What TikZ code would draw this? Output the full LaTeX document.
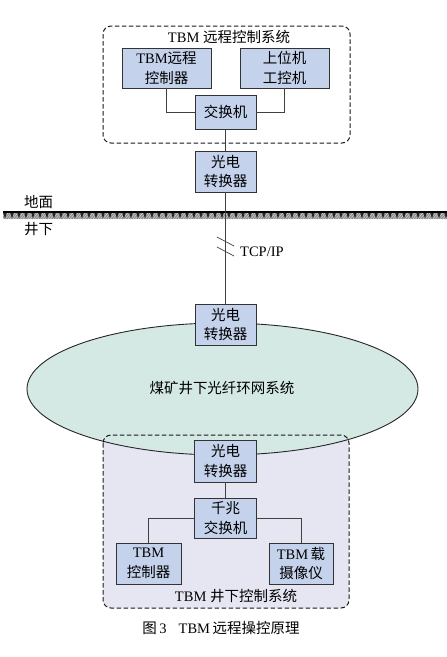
\documentclass[tikz,border=0pt]{standalone}
\usepackage{fontspec}
\setmainfont{Liberation Serif}
\newfontfamily\cjk{Noto Sans CJK SC}
\newcommand{\zh}[1]{{\cjk #1}}
\definecolor{boxblue}{HTML}{C5D2EC}
\definecolor{ringfill}{HTML}{D4E8E4}
\definecolor{lowfill}{HTML}{E6E6F3}
\begin{document}
\begin{tikzpicture}[x=1pt,y=-1pt,
  unit/.style={draw=black!80,fill=boxblue,line width=0.8pt,inner sep=0pt,align=center,
    font=\fontsize{14.5}{19.5}\selectfont},
  sysbox/.style={draw=black!90,dash pattern=on 4.5pt off 2.5pt,line width=1pt,rounded corners=8pt},
  link/.style={draw=black!75,line width=0.7pt},
  lbl/.style={inner sep=0pt,font=\fontsize{14.5}{17}\selectfont}]
\useasboundingbox (0,0) rectangle (447,657);
% top system box
\draw[sysbox,fill=white] (103,26) rectangle (350,143);
\node[lbl] (ttop) at (229,37) {TBM \zh{远程控制系统}};
\node[unit,minimum width=89pt,minimum height=40pt] (ctl1) at (166.5,68) {TBM\zh{远程}\\\zh{控制器}};
\node[unit,minimum width=89pt,minimum height=40pt] (ipc) at (284.5,68) {\zh{上位机}\\\zh{工控机}};
\node[unit,minimum width=61pt,minimum height=34pt] (sw1) at (225.5,112) {\zh{交换机}};
\draw[link] (ctl1.south) |- (sw1.west);
\draw[link] (ipc.south) |- (sw1.east);
\node[unit,minimum width=61pt,minimum height=41pt] (oe1) at (225.5,171.5) {\zh{光电}\\\zh{转换器}};
% ground
\begin{scope}
\clip (3,212) rectangle (447,219);
\fill[black!45] (3,212) rectangle (447,219);
\foreach \x in {0,2.5,...,450} \draw[white!85!black,line width=0.45pt] (\x,219.5) -- (\x+6,212);
\foreach \x in {3,10,...,447} \fill[black!85] (\x,212) -- (\x+4,212) -- (\x+2,218.5) -- cycle;
\end{scope}
\draw[line width=1.3pt] (3,212) -- (447,212);
\node[lbl,anchor=west] (ground) at (24,202) {\zh{地面}};
\node[lbl,anchor=west] (under) at (24,229) {\zh{井下}};
% link down to ring
\coordinate (s1a) at (217,237); \coordinate (s1b) at (234,246);
\coordinate (s2a) at (217,247); \coordinate (s2b) at (234,256);
\node[lbl,anchor=west] (tcp) at (240,252) {TCP/IP};
% lower box fill, ellipse, border
\fill[lowfill,rounded corners=8pt] (103,435) rectangle (349,608);
\draw[draw=black!85,line width=0.9pt,fill=ringfill] (222.5,389) ellipse [x radius=195.5pt,y radius=66pt];
\node[lbl] (ring) at (222,388) {\zh{煤矿井下光纤环网系统}};
\draw[sysbox] (103,435) rectangle (349,608);
\node[unit,minimum width=61pt,minimum height=41pt] (oe2) at (225.5,324.5) {\zh{光电}\\\zh{转换器}};
\draw[link] (sw1.south) -- (oe1.north);
\draw[link] (oe1.south) -- (oe2.north);
\draw[link] (s1a) -- (s1b);
\draw[link] (s2a) -- (s2b);
\node[unit,minimum width=62pt,minimum height=42pt] (oe3) at (225.5,461) {\zh{光电}\\\zh{转换器}};
\node[unit,minimum width=62pt,minimum height=40pt] (sw2) at (225.5,518) {\zh{千兆}\\\zh{交换机}};
\node[unit,minimum width=65pt,minimum height=41pt] (tbmc) at (148.5,563.5) {TBM\\\zh{控制器}};
\node[unit,minimum width=64pt,minimum height=41pt] (cam) at (301,563.5) {TBM\,\zh{载}\\\zh{摄像仪}};
\draw[link] (oe3.south) -- (sw2.north);
\draw[link] (sw2.west) -| (tbmc.north);
\draw[link] (sw2.east) -| (cam.north);
\node[lbl] (tbot) at (236,596) {TBM \zh{井下控制系统}};
\node[lbl] (cap) at (221,628) {\zh{图}\,3\hspace{12pt}TBM\,\zh{远程操控原理}};
\end{tikzpicture}
\end{document}
